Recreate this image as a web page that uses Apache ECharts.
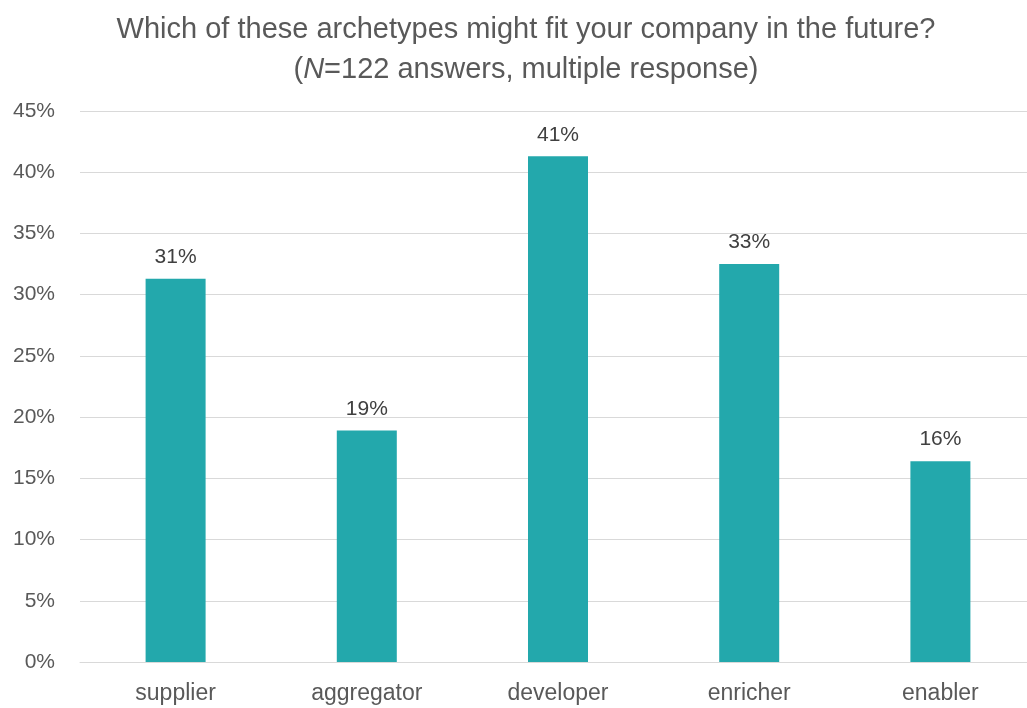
<!DOCTYPE html>
<html>
<head>
<meta charset="utf-8">
<script src="https://cdn.jsdelivr.net/npm/echarts@6/dist/echarts.min.js"></script>
<style>
  html, body { margin: 0; padding: 0; background: #fff; overflow: hidden; }
  /* plot area runs slightly past the right edge of the window */
  #chart { width: 1036px; height: 708px; }
</style>
</head>
<body>
<div id="chart"></div>
<script>
// Share of companies naming each archetype (percent of N=122, multiple response)
const categories = ['supplier', 'aggregator', 'developer', 'enricher', 'enabler'];
const shares = [31.3, 18.9, 41.3, 32.5, 16.4];
const yTicks = { min: 0, max: 45, interval: 5 };

const FONT = '"Liberation Sans", Arial, sans-serif';
const chart = echarts.init(document.getElementById('chart'), null, { renderer: 'canvas' });

chart.setOption({
  animation: false,
  backgroundColor: '#ffffff',
  title: {
    text: 'Which of these archetypes might fit your company in the future?\n({i|N}=122 answers, multiple response)',
    left: 521,
    textAlign: 'center',
    top: 5,
    textStyle: {
      fontFamily: FONT,
      fontSize: 29,
      fontWeight: 'normal',
      color: '#595959',
      lineHeight: 40,
      rich: {
        i: { fontFamily: FONT, fontSize: 29, fontStyle: 'italic', color: '#595959', lineHeight: 40 }
      }
    }
  },
  grid: { left: 80, top: 111, right: 0, height: 551, containLabel: false },
  xAxis: {
    type: 'category',
    data: categories,
    axisLine: { lineStyle: { color: '#d9d9d9', width: 1 } },
    axisTick: { show: false },
    axisLabel: { fontFamily: FONT, fontSize: 23, color: '#595959', margin: 20 }
  },
  yAxis: {
    type: 'value',
    min: yTicks.min,
    max: yTicks.max,
    interval: yTicks.interval,
    axisLine: { show: false },
    axisTick: { show: false },
    splitLine: { lineStyle: { color: '#d9d9d9', width: 1 } },
    axisLabel: {
      fontFamily: FONT, fontSize: 21, color: '#595959', margin: 25,
      formatter: v => v + '%'
    }
  },
  series: [{
    type: 'bar',
    data: shares,
    barWidth: 60,
    itemStyle: { color: '#23A8AC' },
    label: {
      show: true,
      position: 'top',
      distance: 11,
      fontFamily: FONT,
      fontSize: 21,
      color: '#404040',
      formatter: p => Math.round(p.value) + '%'
    }
  }]
});
</script>
</body>
</html>
